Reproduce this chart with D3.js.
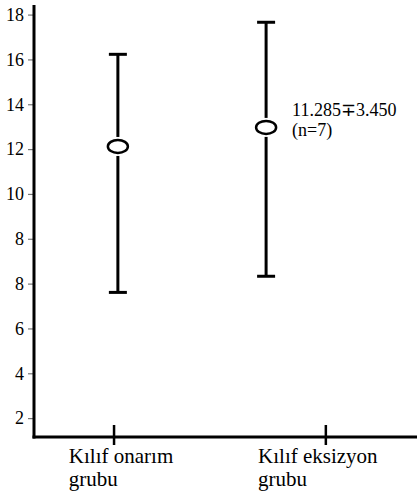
<!DOCTYPE html>
<html><head><meta charset="utf-8">
<script src="https://cdn.jsdelivr.net/npm/d3@7"></script>
<style>body{margin:0;background:#fff}</style>
</head><body>
<script>
// Data
const categories = ["Kılıf onarım\ngrubu", "Kılıf eksizyon\ngrubu"];
const catTickPos = [0.209, 0.762];     // x-axis tick positions (fraction of axis)
const catLabelPos = [0.091, 0.585];    // x-axis label start positions
const barPos = [0.219, 0.606];         // error bar x positions
const meanVals = [14.14, 14.99];
const upperVals = [18.25, 19.68];
const lowerVals = [7.63, 8.35];
const yTickValues = [2, 4, 6, 8, 10, 12, 14, 16, 18, 20];
const yTickLabels = ["2", "4", "6", "8", "8", "10", "12", "14", "16", "18"];
const annotation = ["11.285\u22133.450", "(n=7)"];
const annotatedIndex = 1;

const W = 417, H = 494;
const svg = d3.select("body").append("svg").attr("width", W).attr("height", H);

const x = d3.scaleLinear().domain([0, 1]).range([34, 417]);
const y = d3.scaleLinear().domain([1.18, 20.45]).range([437, 5]);

// Y axis ticks and labels
yTickValues.forEach((v, i) => {
  svg.append("line").attr("x1", x(0) - 6).attr("x2", x(0) - 1).attr("y1", y(v)).attr("y2", y(v))
    .attr("stroke", "#777").attr("stroke-width", 1.2);
  svg.append("text").attr("x", x(0) - 10).attr("y", y(v)).attr("dy", "0.32em")
    .attr("text-anchor", "end").style("font-family", '"Times New Roman"').style("font-size", "18px")
    .text(yTickLabels[i]);
});

// Axis lines
svg.append("line").attr("x1", x(0)).attr("x2", x(0)).attr("y1", y.range()[1]).attr("y2", y.range()[0] + 1.5)
  .attr("stroke", "#000").attr("stroke-width", 3);
svg.append("line").attr("x1", x(0) - 1.5).attr("x2", x(1)).attr("y1", y.range()[0]).attr("y2", y.range()[0])
  .attr("stroke", "#000").attr("stroke-width", 3);

// X ticks
svg.selectAll(".xtick").data(catTickPos).enter().append("line")
  .attr("x1", d => x(d)).attr("x2", d => x(d))
  .attr("y1", y.range()[0] - 12).attr("y2", y.range()[0] + 8)
  .attr("stroke", "#000").attr("stroke-width", 2.5);

// X labels
categories.forEach((c, i) => {
  c.split("\n").forEach((line, j) => {
    svg.append("text").attr("x", x(catLabelPos[i])).attr("y", 463 + j * 23)
      .style("font-family", '"Tinos"').style("font-size", "21px").text(line);
  });
});

// Error bars
const rx = 10, ry = 6.5, gap = 3, capW = 9;
barPos.forEach((p, i) => {
  const cx = x(p), cy = y(meanVals[i]);
  const g = svg.append("g");
  g.append("line").attr("x1", cx).attr("x2", cx).attr("y1", y(upperVals[i])).attr("y2", cy - ry - gap)
    .attr("stroke", "#000").attr("stroke-width", 3);
  g.append("line").attr("x1", cx).attr("x2", cx).attr("y1", cy + ry + gap).attr("y2", y(lowerVals[i]))
    .attr("stroke", "#000").attr("stroke-width", 3);
  [upperVals[i], lowerVals[i]].forEach(v => {
    g.append("line").attr("x1", cx - capW).attr("x2", cx + capW).attr("y1", y(v)).attr("y2", y(v))
      .attr("stroke", "#000").attr("stroke-width", 3);
  });
  g.append("ellipse").attr("cx", cx).attr("cy", cy).attr("rx", rx).attr("ry", ry)
    .attr("fill", "none").attr("stroke", "#000").attr("stroke-width", 2.5);
});

// Annotation
{
  const cx = x(barPos[annotatedIndex]), cy = y(meanVals[annotatedIndex]);
  annotation.forEach((line, j) => {
    svg.append("text").attr("x", cx + 26).attr("y", cy - 11 + j * 20)
      .style("font-family", '"Liberation Serif"').style("font-size", "18px").text(line);
  });
}
</script>
</body></html>
